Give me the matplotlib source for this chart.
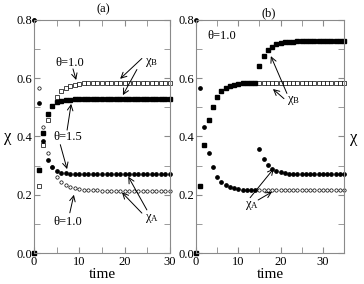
import matplotlib
matplotlib.use("Agg")
import matplotlib.pyplot as plt
from matplotlib.ticker import MultipleLocator

plt.rcParams['font.family'] = ['Liberation Serif', 'DejaVu Serif']
plt.rcParams['mathtext.fontset'] = 'custom'
plt.rcParams['mathtext.rm'] = 'Liberation Serif'
plt.rcParams['mathtext.it'] = 'Liberation Serif:italic'

# panel (a): t = 0..30
t_a = list(range(31))
chiB_a_10 = [0.0, 0.23, 0.37, 0.456, 0.505, 0.535, 0.555, 0.567, 0.573, 0.577, 0.580,
             0.582, 0.583, 0.584, 0.584, 0.585, 0.585, 0.585, 0.585, 0.585, 0.585,
             0.585, 0.585, 0.585, 0.585, 0.585, 0.585, 0.585, 0.585, 0.585, 0.585]
chiB_a_15 = [0.0, 0.285, 0.413, 0.476, 0.505, 0.517, 0.523, 0.526, 0.527, 0.528, 0.528,
             0.528, 0.528, 0.528, 0.528, 0.528, 0.528, 0.528, 0.528, 0.528, 0.528,
             0.528, 0.528, 0.528, 0.528, 0.528, 0.528, 0.528, 0.528, 0.528, 0.528]
chiA_a_15 = [0.8, 0.514, 0.383, 0.32, 0.294, 0.282, 0.276, 0.273, 0.272, 0.271, 0.27,
             0.27, 0.27, 0.27, 0.27, 0.27, 0.27, 0.27, 0.27, 0.27, 0.27,
             0.27, 0.27, 0.27, 0.27, 0.27, 0.27, 0.27, 0.27, 0.27, 0.27]
chiA_a_10 = [0.8, 0.567, 0.432, 0.344, 0.294, 0.262, 0.245, 0.234, 0.227, 0.222, 0.219,
             0.217, 0.216, 0.215, 0.215, 0.214, 0.214, 0.214, 0.214, 0.214, 0.214,
             0.214, 0.214, 0.214, 0.214, 0.214, 0.214, 0.214, 0.214, 0.214, 0.214]

# panel (b): t = 0..35, perturbation at t = 15
t_b = list(range(36))
chiA_b = [0.8, 0.567, 0.431, 0.345, 0.294, 0.262, 0.245, 0.234, 0.227, 0.222, 0.219,
          0.217, 0.216, 0.215, 0.215,
          0.357, 0.322, 0.302, 0.287, 0.281, 0.277, 0.274, 0.272, 0.271, 0.27, 0.27,
          0.27, 0.27, 0.27, 0.27, 0.27, 0.27, 0.27, 0.27, 0.27, 0.27]
chiB_b = [0.0, 0.231, 0.37, 0.455, 0.503, 0.536, 0.556, 0.567, 0.573, 0.577, 0.580,
          0.582, 0.583, 0.584, 0.585,
          0.641, 0.676, 0.696, 0.709, 0.716, 0.720, 0.723, 0.725, 0.726, 0.727, 0.727,
          0.727, 0.727, 0.727, 0.727, 0.727, 0.727, 0.727, 0.727, 0.727, 0.727]
t_b2 = list(range(15, 36))
chiA_b_ref = [0.215] * 21
chiB_b_ref = [0.585] * 21

fig = plt.figure(figsize=(3.64, 2.84), dpi=100)
ax1 = fig.add_axes([34/364, 1-253/284, 136/364, 233/284])
ax2 = fig.add_axes([196/364, 1-253/284, 148/364, 233/284])

gray = '#8a8a8a'
for ax in (ax1, ax2):
    ax.set_ylim(0, 0.8)
    ax.yaxis.set_major_locator(MultipleLocator(0.2))
    ax.yaxis.set_minor_locator(MultipleLocator(0.1))
    ax.xaxis.set_major_locator(MultipleLocator(10))
    ax.xaxis.set_minor_locator(MultipleLocator(5))
    ax.tick_params(which='both', direction='in', top=True, right=True,
                   color=gray, labelsize=9, length=4)
    ax.tick_params(axis='y', pad=1)
    ax.tick_params(axis='x', pad=2)
    for s in ax.spines.values():
        s.set_color(gray)
        s.set_linewidth(0.8)
    ax.yaxis.set_major_formatter(plt.FormatStrFormatter('%.1f'))
    ax.set_xlabel('time', fontsize=11, labelpad=0)

ms = 2.4
ax1.set_xlim(0, 30)
ax1.plot(t_a, chiB_a_10, 's', ms=ms, mfc='white', mec='black', mew=0.5, clip_on=False)
ax1.plot(t_a, chiB_a_15, 's', ms=ms, color='black', clip_on=False)
ax1.plot(t_a, chiA_a_10, 'o', ms=ms, mfc='white', mec='black', mew=0.5, clip_on=False)
ax1.plot(t_a, chiA_a_15, 'o', ms=ms, color='black', clip_on=False)

ax2.set_xlim(0, 35)
ax2.plot(t_b2, chiB_b_ref, 's', ms=ms, mfc='white', mec='black', mew=0.5, clip_on=False)
ax2.plot(t_b2, chiA_b_ref, 'o', ms=ms, mfc='white', mec='black', mew=0.5, clip_on=False)
ax2.plot(t_b, chiB_b, 's', ms=ms, color='black', clip_on=False)
ax2.plot(t_b, chiA_b, 'o', ms=ms, color='black', clip_on=False)

arr = dict(arrowstyle='->', color='black', lw=0.7, shrinkA=0, shrinkB=0)
fs = 9
chiB = r'$\mathrm{χ}_{\mathrm{B}}$'
chiA = r'$\mathrm{χ}_{\mathrm{A}}$'
ax1.text(7.9, 0.652, 'θ=1.0', fontsize=fs, ha='center', va='center')
ax1.annotate('', xy=(9.3, 0.594), xytext=(8.6, 0.632), arrowprops=arr)
ax1.text(26.0, 0.655, chiB, fontsize=fs, ha='center', va='center')
ax1.annotate('', xy=(19.0, 0.598), xytext=(23.8, 0.668), arrowprops=arr)
ax1.annotate('', xy=(19.6, 0.542), xytext=(22.7, 0.630), arrowprops=arr)
ax1.text(7.5, 0.398, 'θ=1.5', fontsize=fs, ha='center', va='center')
ax1.annotate('', xy=(8.2, 0.512), xytext=(7.3, 0.422), arrowprops=arr)
ax1.annotate('', xy=(7.3, 0.288), xytext=(5.8, 0.372), arrowprops=arr)
ax1.text(7.5, 0.106, 'θ=1.0', fontsize=fs, ha='center', va='center')
ax1.annotate('', xy=(8.8, 0.200), xytext=(7.9, 0.138), arrowprops=arr)
ax1.text(26.0, 0.118, chiA, fontsize=fs, ha='center', va='center')
ax1.annotate('', xy=(20.8, 0.262), xytext=(24.9, 0.148), arrowprops=arr)
ax1.annotate('', xy=(19.4, 0.208), xytext=(23.8, 0.137), arrowprops=arr)

ax2.text(2.8, 0.744, 'θ=1.0', fontsize=fs, ha='left', va='center')
ax2.text(23.0, 0.525, chiB, fontsize=fs, ha='center', va='center')
ax2.annotate('', xy=(17.7, 0.676), xytext=(21.5, 0.548), arrowprops=arr)
ax2.annotate('', xy=(18.2, 0.563), xytext=(20.8, 0.530), arrowprops=arr)
ax2.text(13.2, 0.162, chiA, fontsize=fs, ha='center', va='center')
ax2.annotate('', xy=(18.4, 0.290), xytext=(12.8, 0.190), arrowprops=arr)
ax2.annotate('', xy=(18.0, 0.210), xytext=(14.7, 0.182), arrowprops=arr)

fig.text(103/364, 1-9/284, '(a)', fontsize=9, ha='center', va='center')
fig.text(269/364, 1-13/284, '(b)', fontsize=9, ha='center', va='center')
fig.text(8/364, 1-137/284, 'χ', fontsize=12, ha='center', va='center')
fig.text(354/364, 1-138/284, 'χ', fontsize=12, ha='center', va='center')

fig.savefig('out.png', dpi=100)
